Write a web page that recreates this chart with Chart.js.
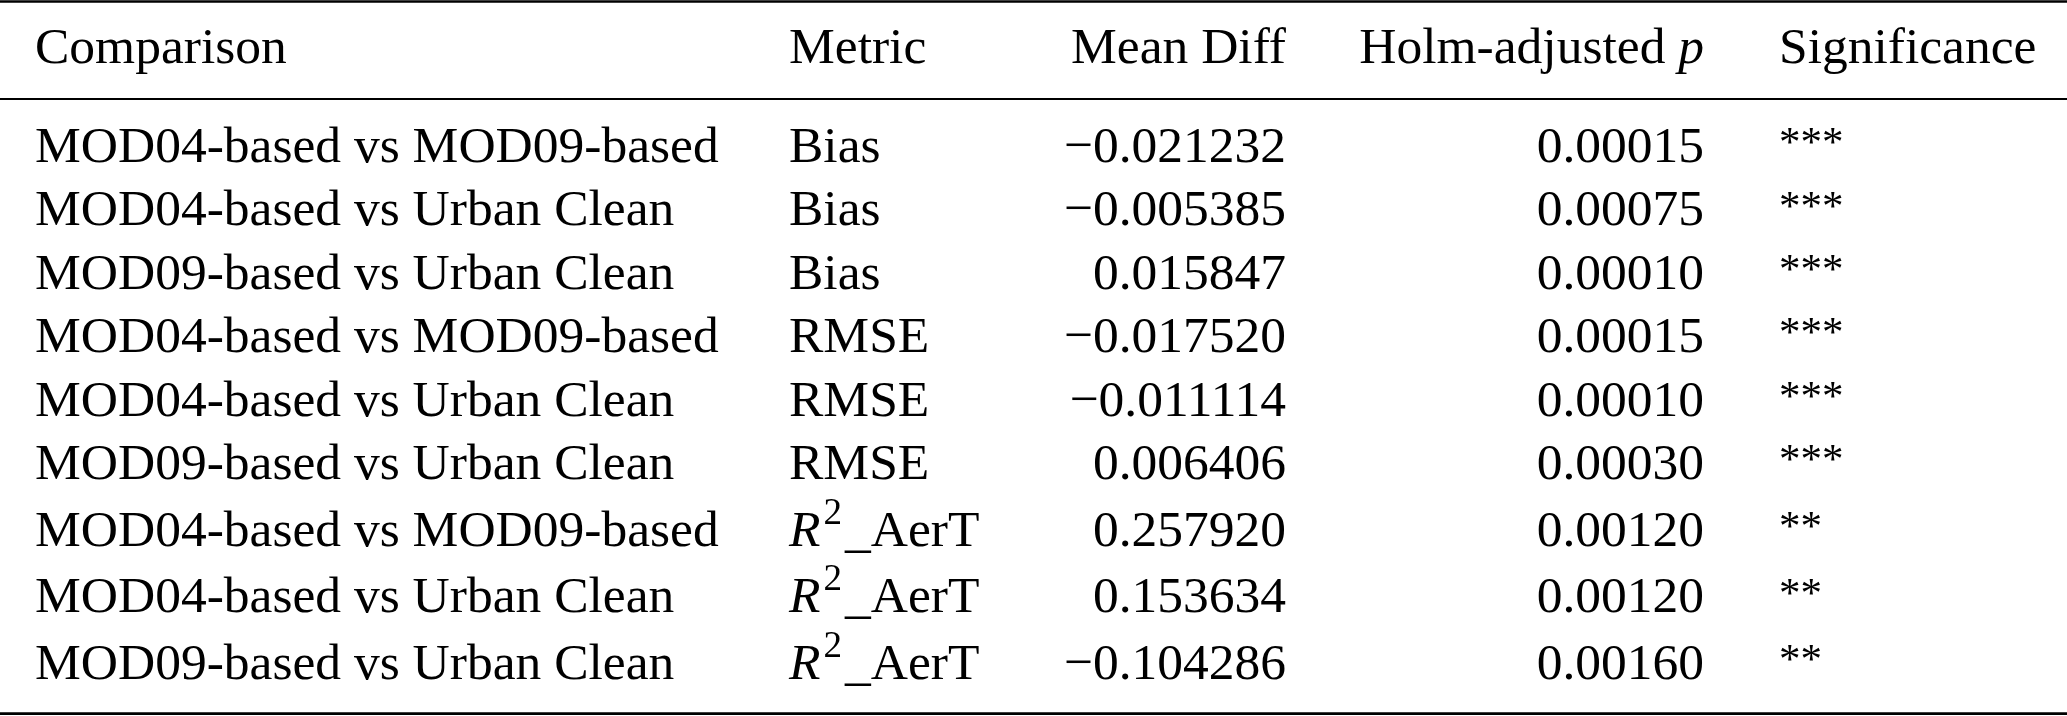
<!DOCTYPE html>
<html>
<head>
<meta charset="utf-8">
<script src="https://cdn.jsdelivr.net/npm/chart.js@4"></script>
<style>
  html, body { margin: 0; padding: 0; background: #ffffff; }
  #wrap { width: 2067px; height: 716px; }
</style>
</head>
<body>
<div id="wrap"><canvas id="c" width="2067" height="716"></canvas></div>
<script>
// ---- data ----
const headers = ['Comparison', 'Metric', 'Mean Diff', 'Holm-adjusted p', 'Significance'];
const comparisons = [
  'MOD04-based vs MOD09-based',
  'MOD04-based vs Urban Clean',
  'MOD09-based vs Urban Clean',
  'MOD04-based vs MOD09-based',
  'MOD04-based vs Urban Clean',
  'MOD09-based vs Urban Clean',
  'MOD04-based vs MOD09-based',
  'MOD04-based vs Urban Clean',
  'MOD09-based vs Urban Clean'
];
const metrics = ['Bias', 'Bias', 'Bias', 'RMSE', 'RMSE', 'RMSE', 'R2_AerT', 'R2_AerT', 'R2_AerT'];
const meanDiff = [-0.021232, -0.005385, 0.015847, -0.017520, -0.011114, 0.006406, 0.257920, 0.153634, -0.104286];
const holmP = [0.00015, 0.00075, 0.00010, 0.00015, 0.00010, 0.00030, 0.00120, 0.00120, 0.00160];
const significance = ['***', '***', '***', '***', '***', '***', '**', '**', '**'];

// ---- layout (x in canvas units, y in text-line units) ----
const FONT = '"Liberation Serif", "Times New Roman", serif';
const FS = 51.5;
const LINE = 63.4;                 // px per line unit
const colX = { comp: 35, metric: 789, mean: 1286, holm: 1704, sig: 1779 };
const yMax = 716 / LINE;
const headerLine = 63 / LINE;
const firstRow = 162 / LINE;
const supExtra = 0.052;            // extra leading for rows with superscript
const rowLines = [];
(function () {
  let extra = 0;
  for (let i = 0; i < metrics.length; i++) {
    if (metrics[i].startsWith('R2')) extra += supExtra;
    rowLines.push(firstRow + i + extra);
  }
})();
const rules = [
  { y: 1.5 / LINE, w: 2.6 },
  { y: headerLine + 36 / LINE, w: 2.2 },
  { y: rowLines[rowLines.length - 1] + 34.5 / LINE, w: 2.8 }
];

function fmtSigned(v, d) {
  const s = Math.abs(v).toFixed(d);
  return (v < 0 ? '\u2212' : '') + s;
}

const tablePlugin = {
  id: 'tableCells',
  beforeDraw(chart) {
    const ctx = chart.ctx;
    ctx.save();
    ctx.fillStyle = '#ffffff';
    ctx.fillRect(0, 0, chart.width, chart.height);
    ctx.restore();
  },
  afterDraw(chart) {
    const ctx = chart.ctx;
    const xs = chart.scales.x, ys = chart.scales.y;
    const X = v => xs.getPixelForValue(v);
    const Y = v => ys.getPixelForValue(v);
    ctx.save();
    // rules
    ctx.strokeStyle = '#000';
    rules.forEach(r => {
      ctx.lineWidth = r.w;
      ctx.beginPath();
      ctx.moveTo(X(0), Y(r.y));
      ctx.lineTo(X(2067), Y(r.y));
      ctx.stroke();
    });
    ctx.fillStyle = '#000';
    ctx.textBaseline = 'alphabetic';
    const normal = FS + 'px ' + FONT;
    const italic = 'italic ' + FS + 'px ' + FONT;
    const sup = (FS * 0.72).toFixed(1) + 'px ' + FONT;
    const starFS = 43;
    const star = starFS + 'px ' + FONT;
    const starRaise = 0.676 * (FS - starFS);

    // header
    const hy = Y(headerLine);
    ctx.font = normal;
    ctx.textAlign = 'left';
    ctx.fillText(headers[0], X(colX.comp), hy);
    ctx.fillText(headers[1], X(colX.metric), hy);
    ctx.textAlign = 'right';
    ctx.fillText(headers[2], X(colX.mean), hy);
    // Holm-adjusted p (p italic), right aligned
    {
      const parts = headers[3].split(' ');
      const pTxt = parts.pop();
      const lead = parts.join(' ') + ' ';
      ctx.font = italic;
      const wp = ctx.measureText(pTxt).width;
      ctx.textAlign = 'right';
      ctx.fillText(pTxt, X(colX.holm), hy);
      ctx.font = normal;
      ctx.fillText(lead, X(colX.holm) - wp, hy);
    }
    ctx.textAlign = 'left';
    ctx.fillText(headers[4], X(colX.sig), hy);

    // body
    for (let i = 0; i < comparisons.length; i++) {
      const y = Y(rowLines[i]);
      ctx.font = normal;
      ctx.textAlign = 'left';
      ctx.fillText(comparisons[i], X(colX.comp), y);
      // metric
      const m = metrics[i];
      if (m.startsWith('R2')) {
        let x = X(colX.metric);
        ctx.font = italic;
        ctx.fillText('R', x, y);
        x += ctx.measureText('R').width + 3;
        ctx.font = sup;
        ctx.fillText('2', x, y - FS * 0.43);
        x += ctx.measureText('2').width + 3;
        ctx.font = normal;
        ctx.fillText(m.slice(2), x, y);
      } else {
        ctx.fillText(m, X(colX.metric), y);
      }
      ctx.textAlign = 'right';
      ctx.fillText(fmtSigned(meanDiff[i], 6), X(colX.mean), y);
      ctx.fillText(holmP[i].toFixed(5), X(colX.holm), y);
      ctx.textAlign = 'left';
      ctx.font = star;
      ctx.fillText(significance[i], X(colX.sig), y - starRaise);
    }
    ctx.restore();
  }
};

new Chart(document.getElementById('c'), {
  type: 'scatter',
  data: { datasets: [] },
  options: {
    responsive: false,
    animation: false,
    devicePixelRatio: 1,
    layout: { padding: 0 },
    plugins: { legend: { display: false }, tooltip: { enabled: false } },
    scales: {
      x: { type: 'linear', min: 0, max: 2067, display: false },
      y: { type: 'linear', min: 0, max: yMax, reverse: true, display: false }
    }
  },
  plugins: [tablePlugin]
});
</script>
</body>
</html>
